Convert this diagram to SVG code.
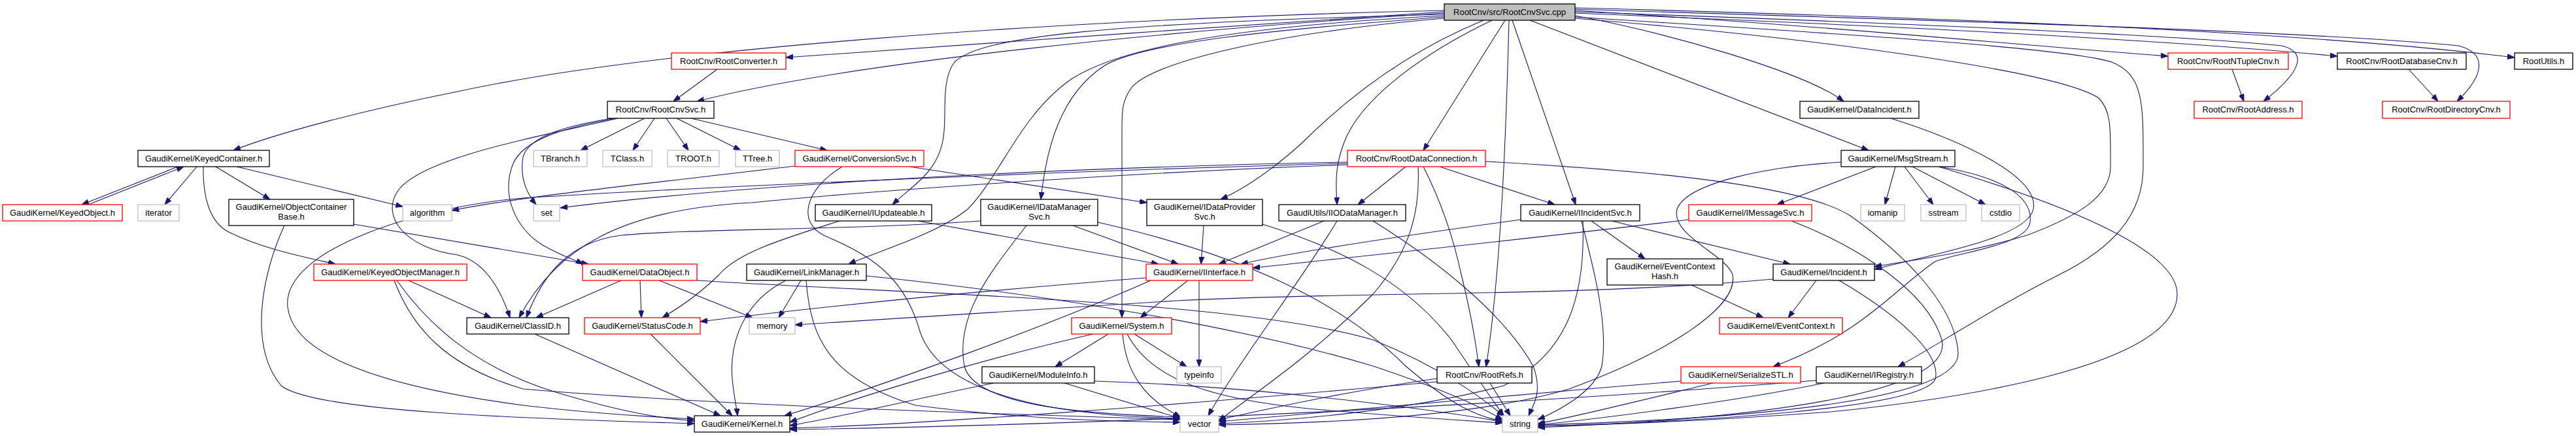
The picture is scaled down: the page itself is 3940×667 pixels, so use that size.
<svg xmlns="http://www.w3.org/2000/svg" width="3940" height="667" viewBox="0 0 3940 667">
<style>
.e path{fill:none;stroke:#191970;stroke-width:1.1;marker-end:url(#a)}
.n rect{fill:#fff;stroke:#000;stroke-width:1.3}
.r rect{stroke:#ff0000}
.g rect{stroke:#bfbfbf}
#n_root rect{fill:#bfbfbf}
text{font-family:"Liberation Sans",Helvetica,Arial,sans-serif;font-size:13px;text-anchor:middle;fill:#000}
</style>
<defs>
<marker id="a" markerWidth="11" markerHeight="8" refX="11" refY="4" orient="auto" markerUnits="userSpaceOnUse"><path d="M0,0 L11,4 L0,8 z" fill="#191970" stroke="#191970" stroke-width="1"/></marker>
</defs>
<rect width="3940" height="667" fill="#fff"/>
<g class="e" id="connectors">
<path d="M2209,16 C1600,30 1000,75 700,140 C550,170 420,205 357,230"/>
<path d="M2209,18 C1900,40 1500,65 1202,88"/>
<path d="M2209,20 C1800,45 1300,95 1066,155"/>
<path d="M2209,22 C1700,35 1500,55 1460,95 C1440,120 1447,170 1444,200 C1440,260 1400,280 1365,313"/>
<path d="M2209,24 C1900,40 1720,70 1640,120 C1560,175 1530,270 1480,320 C1430,360 1340,385 1298,404"/>
<path d="M2209,26 C1950,45 1750,65 1690,100 C1620,145 1600,230 1592,305"/>
<path d="M2209,28 C1950,50 1760,95 1730,135 C1716,155 1716,170 1716,200 L1716,486"/>
<path d="M2269,31 C2150,80 2060,150 1990,220 C1940,265 1900,290 1867,305"/>
<path d="M2282,31 C2180,80 2080,150 2055,220 C2040,260 2044,290 2045,313"/>
<path d="M2302,31 L2177,230"/>
<path d="M2308,31 C2305,150 2298,400 2273,561"/>
<path d="M2313,31 L2410,313"/>
<path d="M2340,31 L2858,230"/>
<path d="M2409,24 C2550,50 2760,110 2820,155"/>
<path d="M2409,16 C2800,40 3100,70 3316,86"/>
<path d="M2409,18 C2900,35 3350,55 3490,70 C3530,80 3520,110 3462,155"/>
<path d="M2409,20 C2900,40 3300,60 3575,86"/>
<path d="M2409,14 C2900,30 3500,45 3760,70 C3800,80 3805,110 3758,155"/>
<path d="M2409,12 C2900,25 3500,45 3846,88"/>
<path d="M2409,26 C2700,45 3150,70 3230,95 C3280,115 3278,160 3278,255 C3278,330 3230,380 3150,420 C3050,470 2960,530 2903,561"/>
<path d="M2409,28 C2800,60 3150,110 3210,150 C3230,170 3228,200 3228,255 C3228,300 3180,330 3100,360 C3000,390 2920,398 2867,408"/>
<path d="M272,255 L125,313"/>
<path d="M135,313 L281,255"/>
<path d="M301,255 L252,313"/>
<path d="M330,255 L413,305"/>
<path d="M362,255 L616,316"/>
<path d="M311,255 C310,300 320,340 350,355 C400,380 460,392 513,404"/>
<path d="M541,343 L900,404"/>
<path d="M435,345 C400,420 380,530 430,590 C480,630 800,640 1062,648"/>
<path d="M625,429 L751,486"/>
<path d="M607,429 C650,490 720,560 850,600 C950,630 1010,640 1062,644"/>
<path d="M603,429 C630,500 680,560 800,595 C1000,612 1300,625 1500,632 C1650,637 1750,640 1805,642"/>
<path d="M1097,106 L1030,155"/>
<path d="M986,181 L888,230"/>
<path d="M1001,181 L968,230"/>
<path d="M1019,181 L1053,230"/>
<path d="M1035,181 L1133,230"/>
<path d="M1057,181 L1265,230"/>
<path d="M937,181 C880,190 810,205 800,240 C795,270 805,295 820,313"/>
<path d="M943,181 C860,195 800,215 785,250 C765,300 790,350 830,375 C860,392 880,398 892,404"/>
<path d="M945,181 C820,210 650,240 610,290 C580,330 620,380 700,390 C740,400 765,440 780,486"/>
<path d="M1216,254 C1000,280 800,300 691,322"/>
<path d="M1391,255 L1754,310"/>
<path d="M1288,255 C1230,290 1220,340 1260,360 C1330,390 1380,420 1405,500 C1430,600 1600,636 1805,640"/>
<path d="M1284,338 C1200,365 1130,385 1100,420 C1070,450 1040,470 1013,486"/>
<path d="M1404,338 L1772,404"/>
<path d="M1500,338 C1300,352 1050,350 950,360 C870,370 830,420 805,486"/>
<path d="M1641,345 L1802,404"/>
<path d="M1570,345 C1520,410 1460,480 1475,560 C1490,620 1650,633 1805,638"/>
<path d="M1679,340 C1900,390 2050,460 2150,560 C2220,620 2260,638 2298,644"/>
<path d="M1931,343 C2050,380 2150,430 2220,520 C2260,580 2285,615 2300,636"/>
<path d="M1841,345 L1837,404"/>
<path d="M2025,338 L1864,404"/>
<path d="M2045,338 C1990,430 1890,560 1848,636"/>
<path d="M2100,338 C2200,400 2300,480 2345,560 C2360,600 2345,620 2338,636"/>
<path d="M2061,248 C1700,255 1200,275 857,318"/>
<path d="M2061,252 C1700,265 1300,295 1150,310 C950,320 850,380 794,486"/>
<path d="M2061,250 C1600,262 1000,290 800,303 C650,315 430,380 440,470 C450,560 650,600 800,620 C900,632 1000,638 1062,641"/>
<path d="M2150,255 L2077,313"/>
<path d="M2177,255 C2200,300 2220,350 2235,420 C2250,480 2258,530 2262,561"/>
<path d="M2169,255 C2172,320 2160,380 2100,450 C2000,550 1920,600 1864,644"/>
<path d="M2202,255 L2378,313"/>
<path d="M2272,247 C2500,260 2750,280 2830,330 C2900,380 2990,460 2995,540 C2998,610 2700,640 2352,650"/>
<path d="M1817,429 L1744,486"/>
<path d="M1834,429 L1834,561"/>
<path d="M1753,425 C1500,445 1250,470 1071,492"/>
<path d="M1760,429 C1600,500 1350,590 1200,636"/>
<path d="M1695,511 L1614,561"/>
<path d="M1735,511 L1815,561"/>
<path d="M1717,511 C1722,570 1750,610 1806,638"/>
<path d="M1724,511 C1760,580 1850,610 2000,625 C2150,638 2250,644 2298,647"/>
<path d="M1672,511 C1500,550 1300,610 1208,646"/>
<path d="M1520,586 C1400,610 1300,635 1208,651"/>
<path d="M1628,586 L1805,640"/>
<path d="M1674,583 C1900,590 2150,620 2298,645"/>
<path d="M950,429 L820,486"/>
<path d="M979,429 L981,486"/>
<path d="M1008,429 L1151,486"/>
<path d="M1066,429 C1400,450 1900,460 2100,520 C2200,560 2270,610 2300,637"/>
<path d="M1225,429 L1191,486"/>
<path d="M1202,429 C1140,460 1115,520 1120,580 C1123,610 1127,625 1128,636"/>
<path d="M1233,429 C1240,520 1270,580 1400,620 C1550,640 1700,645 1805,646"/>
<path d="M1325,422 C1600,450 1900,500 2100,560 C2220,600 2270,625 2298,642"/>
<path d="M818,511 L1102,636"/>
<path d="M995,511 L1120,636"/>
<path d="M2326,336 C2150,360 1980,385 1898,404"/>
<path d="M2434,338 L2516,396"/>
<path d="M2465,338 L2738,404"/>
<path d="M2419,338 C2440,420 2460,500 2450,560 C2440,600 2380,630 2352,642"/>
<path d="M2421,338 C2425,450 2400,540 2300,590 C2150,630 1950,645 1864,648"/>
<path d="M2587,436 L2697,486"/>
<path d="M2778,429 L2735,486"/>
<path d="M2712,427 C2400,455 2100,445 1800,460 C1550,475 1350,490 1216,497"/>
<path d="M2813,429 C2900,480 2970,540 2960,580 C2940,625 2600,645 2352,652"/>
<path d="M2583,336 C2300,370 2050,395 1916,410"/>
<path d="M2740,338 C2850,380 2950,450 2970,520 C2990,600 2700,640 2352,654"/>
<path d="M2869,255 L2718,313"/>
<path d="M2899,255 L2883,313"/>
<path d="M2913,255 L2957,313"/>
<path d="M2925,255 L3037,313"/>
<path d="M2965,255 C3060,270 3110,300 3105,340 C3100,375 3000,385 2960,400 C2900,440 2850,510 2712,561"/>
<path d="M2965,255 C3150,310 3330,380 3330,450 C3330,560 3000,610 2800,630 C2600,645 2450,650 2352,652"/>
<path d="M2816,248 C2700,255 2580,280 2565,320 C2555,360 2640,390 2650,420 C2660,470 2550,540 2400,595 C2250,640 2000,648 1864,650"/>
<path d="M2892,181 C3000,215 3120,270 3110,320 C3100,365 2950,390 2867,412"/>
<path d="M2571,583 C2300,605 2000,635 1864,645"/>
<path d="M2620,586 C2500,615 2400,640 2352,648"/>
<path d="M2790,586 C2650,615 2450,640 2352,650"/>
<path d="M2778,582 C2300,620 1700,650 1208,657"/>
<path d="M2279,586 L2310,636"/>
<path d="M2198,579 C2050,600 1920,630 1864,642"/>
<path d="M2198,584 C1800,620 1400,650 1208,655"/>
<path d="M3414,106 L3432,155"/>
<path d="M3684,106 L3729,155"/>
</g>
<g id="n_root" class="n"><rect x="2209" y="6" width="200" height="25"/><text x="2309" y="23">RootCnv/src/RootCnvSvc.cpp</text></g>
<g id="n_RootConverter" class="n r"><rect x="1027" y="81" width="175" height="25"/><text x="1114.5" y="98">RootCnv/RootConverter.h</text></g>
<g id="n_RootNTupleCnv" class="n r"><rect x="3316" y="81" width="184" height="25"/><text x="3408" y="98">RootCnv/RootNTupleCnv.h</text></g>
<g id="n_RootDatabaseCnv" class="n"><rect x="3575" y="81" width="197" height="25"/><text x="3673.5" y="98">RootCnv/RootDatabaseCnv.h</text></g>
<g id="n_RootUtils" class="n"><rect x="3846" y="81" width="89" height="25"/><text x="3890.5" y="98">RootUtils.h</text></g>
<g id="n_RootCnvSvc" class="n"><rect x="929" y="155" width="163" height="26"/><text x="1010.5" y="172">RootCnv/RootCnvSvc.h</text></g>
<g id="n_DataIncident" class="n"><rect x="2753" y="155" width="182" height="26"/><text x="2844" y="172">GaudiKernel/DataIncident.h</text></g>
<g id="n_RootAddress" class="n r"><rect x="3356" y="155" width="165" height="26"/><text x="3438.5" y="172">RootCnv/RootAddress.h</text></g>
<g id="n_RootDirectoryCnv" class="n r"><rect x="3644" y="155" width="195" height="26"/><text x="3741.5" y="172">RootCnv/RootDirectoryCnv.h</text></g>
<g id="n_KeyedContainer" class="n"><rect x="211" y="230" width="201" height="25"/><text x="311.5" y="247">GaudiKernel/KeyedContainer.h</text></g>
<g id="n_TBranch" class="n g"><rect x="816" y="230" width="82" height="25"/><text x="857" y="247">TBranch.h</text></g>
<g id="n_TClass" class="n g"><rect x="922" y="230" width="75" height="25"/><text x="959.5" y="247">TClass.h</text></g>
<g id="n_TROOT" class="n g"><rect x="1021" y="230" width="79" height="25"/><text x="1060.5" y="247">TROOT.h</text></g>
<g id="n_TTree" class="n g"><rect x="1125" y="230" width="67" height="25"/><text x="1158.5" y="247">TTree.h</text></g>
<g id="n_ConversionSvc" class="n r"><rect x="1216" y="230" width="197" height="25"/><text x="1314.5" y="247">GaudiKernel/ConversionSvc.h</text></g>
<g id="n_RootDataConnection" class="n r"><rect x="2061" y="230" width="211" height="25"/><text x="2166.5" y="247">RootCnv/RootDataConnection.h</text></g>
<g id="n_MsgStream" class="n"><rect x="2816" y="230" width="174" height="25"/><text x="2903" y="247">GaudiKernel/MsgStream.h</text></g>
<g id="n_KeyedObject" class="n r"><rect x="4" y="313" width="183" height="25"/><text x="95.5" y="330">GaudiKernel/KeyedObject.h</text></g>
<g id="n_iterator" class="n g"><rect x="211" y="313" width="63" height="25"/><text x="242.5" y="330">iterator</text></g>
<g id="n_ObjectContainerBase" class="n"><rect x="350" y="305" width="191" height="40"/><text x="445.5" y="321">GaudiKernel/ObjectContainer</text><text x="445.5" y="336">Base.h</text></g>
<g id="n_algorithm" class="n g"><rect x="616" y="313" width="75" height="25"/><text x="653.5" y="330">algorithm</text></g>
<g id="n_set" class="n g"><rect x="816" y="313" width="40" height="25"/><text x="836" y="330">set</text></g>
<g id="n_IUpdateable" class="n"><rect x="1247" y="313" width="178" height="25"/><text x="1336" y="330">GaudiKernel/IUpdateable.h</text></g>
<g id="n_IDataManagerSvc" class="n"><rect x="1500" y="305" width="179" height="40"/><text x="1589.5" y="321">GaudiKernel/IDataManager</text><text x="1589.5" y="336">Svc.h</text></g>
<g id="n_IDataProviderSvc" class="n"><rect x="1754" y="305" width="177" height="40"/><text x="1842.5" y="321">GaudiKernel/IDataProvider</text><text x="1842.5" y="336">Svc.h</text></g>
<g id="n_IIODataManager" class="n"><rect x="1956" y="313" width="194" height="25"/><text x="2053" y="330">GaudiUtils/IIODataManager.h</text></g>
<g id="n_IIncidentSvc" class="n"><rect x="2326" y="313" width="182" height="25"/><text x="2417" y="330">GaudiKernel/IIncidentSvc.h</text></g>
<g id="n_IMessageSvc" class="n r"><rect x="2583" y="313" width="188" height="25"/><text x="2677" y="330">GaudiKernel/IMessageSvc.h</text></g>
<g id="n_iomanip" class="n g"><rect x="2846" y="313" width="67" height="25"/><text x="2879.5" y="330">iomanip</text></g>
<g id="n_sstream" class="n g"><rect x="2938" y="313" width="69" height="25"/><text x="2972.5" y="330">sstream</text></g>
<g id="n_cstdio" class="n g"><rect x="3031" y="313" width="58" height="25"/><text x="3060" y="330">cstdio</text></g>
<g id="n_KeyedObjectManager" class="n r"><rect x="480" y="404" width="234" height="25"/><text x="597" y="421">GaudiKernel/KeyedObjectManager.h</text></g>
<g id="n_DataObject" class="n r"><rect x="891" y="404" width="175" height="25"/><text x="978.5" y="421">GaudiKernel/DataObject.h</text></g>
<g id="n_LinkManager" class="n"><rect x="1142" y="404" width="183" height="25"/><text x="1233.5" y="421">GaudiKernel/LinkManager.h</text></g>
<g id="n_IInterface" class="n r"><rect x="1753" y="404" width="163" height="25"/><text x="1834.5" y="421">GaudiKernel/IInterface.h</text></g>
<g id="n_EventContextHash" class="n"><rect x="2458" y="396" width="177" height="40"/><text x="2546.5" y="412">GaudiKernel/EventContext</text><text x="2546.5" y="427">Hash.h</text></g>
<g id="n_Incident" class="n"><rect x="2712" y="404" width="155" height="25"/><text x="2789.5" y="421">GaudiKernel/Incident.h</text></g>
<g id="n_ClassID" class="n"><rect x="714" y="486" width="156" height="25"/><text x="792" y="503">GaudiKernel/ClassID.h</text></g>
<g id="n_StatusCode" class="n r"><rect x="894" y="486" width="177" height="25"/><text x="982.5" y="503">GaudiKernel/StatusCode.h</text></g>
<g id="n_memory" class="n g"><rect x="1146" y="486" width="70" height="25"/><text x="1181" y="503">memory</text></g>
<g id="n_System" class="n r"><rect x="1639" y="486" width="153" height="25"/><text x="1715.5" y="503">GaudiKernel/System.h</text></g>
<g id="n_EventContext" class="n r"><rect x="2630" y="486" width="188" height="25"/><text x="2724" y="503">GaudiKernel/EventContext.h</text></g>
<g id="n_ModuleInfo" class="n"><rect x="1502" y="561" width="172" height="25"/><text x="1588" y="578">GaudiKernel/ModuleInfo.h</text></g>
<g id="n_typeinfo" class="n g"><rect x="1800" y="561" width="68" height="25"/><text x="1834" y="578">typeinfo</text></g>
<g id="n_RootRefs" class="n"><rect x="2198" y="561" width="145" height="25"/><text x="2270.5" y="578">RootCnv/RootRefs.h</text></g>
<g id="n_SerializeSTL" class="n r"><rect x="2571" y="561" width="183" height="25"/><text x="2662.5" y="578">GaudiKernel/SerializeSTL.h</text></g>
<g id="n_IRegistry" class="n"><rect x="2778" y="561" width="161" height="25"/><text x="2858.5" y="578">GaudiKernel/IRegistry.h</text></g>
<g id="n_Kernel" class="n"><rect x="1062" y="636" width="146" height="25"/><text x="1135" y="653">GaudiKernel/Kernel.h</text></g>
<g id="n_vector" class="n g"><rect x="1805" y="636" width="59" height="25"/><text x="1834.5" y="653">vector</text></g>
<g id="n_string" class="n g"><rect x="2298" y="636" width="54" height="25"/><text x="2325" y="653">string</text></g>
</svg>
